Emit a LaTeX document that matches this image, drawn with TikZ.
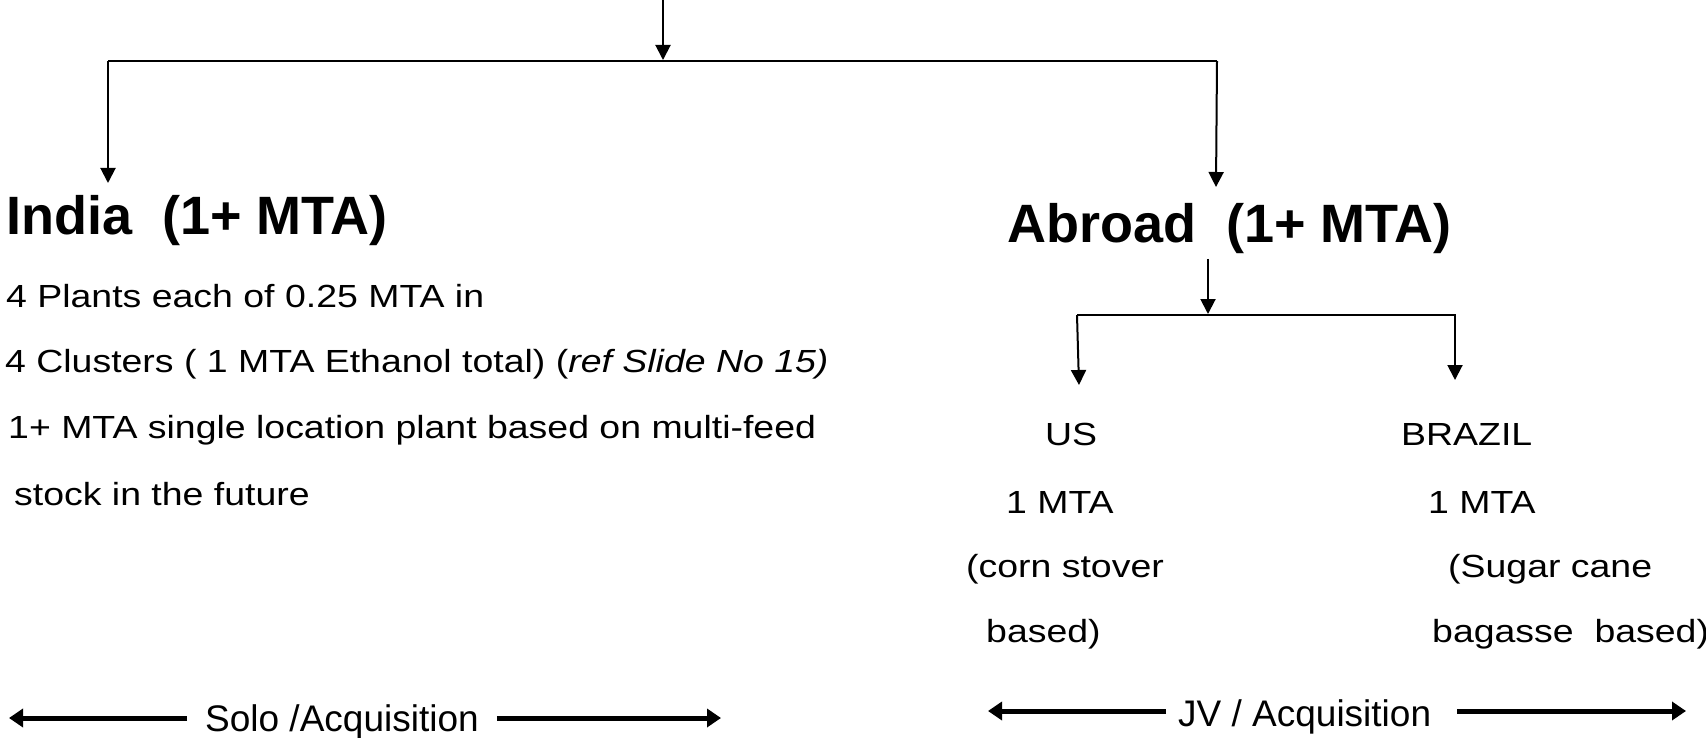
\documentclass[tikz,border=0pt]{standalone}
\usepackage{fontspec}
\setmainfont{Liberation Sans}
\newfontfamily\bodyfont[FakeStretch=1.17]{Liberation Sans}
\usetikzlibrary{arrows.meta}

\begin{document}
\begin{tikzpicture}[x=1pt, y=-1pt]

\tikzset{thinarrow/.style={line width=2pt, -{Triangle[length=15pt, width=15pt]}}}
\tikzset{widearrow/.style={line width=5pt, -{Triangle[length=14pt, width=18pt]}}}
\tikzset{headtext/.style={anchor=base west, inner sep=0pt, font=\fontsize{54}{60}\selectfont\bfseries}}
\tikzset{bodytext/.style={anchor=base west, inner sep=0pt, font=\bodyfont\fontsize{32}{38}\selectfont}}
\tikzset{scopetext/.style={anchor=base west, inner ysep=0pt, font=\fontsize{37}{44}\selectfont}}

\useasboundingbox (0,0) rectangle (1706,738);

% branch points
\coordinate (src) at (663,0);
\coordinate (hub) at (663,60);
\coordinate (hubL) at (108,61);
\coordinate (hubR) at (1217,61);
\coordinate (indiaIn) at (108,183);
\coordinate (abroadIn) at (1216,187);
\coordinate (abroadOut) at (1208,259);
\coordinate (split) at (1208,314);
\coordinate (splitL) at (1077,315);
\coordinate (splitR) at (1456,315);
\coordinate (usIn) at (1079,385);
\coordinate (brIn) at (1455,380);

% headings
\node[headtext] at (6,235) (india) {India\ \ (1+ MTA)};
\node[headtext] at (1007,243) (abroad) {Abroad\ \ (1+ MTA)};

% india plan
\node[bodytext] at (6,307) (plants) {4 Plants each of 0.25 MTA in};
\node[bodytext] at (5,372) (clusters) {4 Clusters ( 1 MTA Ethanol total) (\textit{ref Slide No 15)}};
\node[bodytext] at (8,438) (single) {1+ MTA single location plant based on multi-feed};
\node[bodytext] at (14,505) (stock) {stock in the future};

% abroad plan
\node[bodytext] at (1045,445) (us) {US};
\node[bodytext] at (1006,513) (usmta) {1 MTA};
\node[bodytext] at (966,577) (usfeed) {(corn stover};
\node[bodytext] at (986,642) (usbase) {based)};
\node[bodytext] at (1401,445) (br) {BRAZIL};
\node[bodytext] at (1428,513) (brmta) {1 MTA};
\node[bodytext] at (1448,577) (brfeed) {(Sugar cane};
\node[bodytext] at (1432,642) (brbase) {bagasse\ \ based)};

% tree
\draw[thinarrow] (src) -- (hub);
\draw[line width=2pt] (hubL) -- (hubR);
\draw[thinarrow] (hubL) -- (indiaIn);
\draw[thinarrow] (hubR |- hubL) -- (abroadIn);
\draw[thinarrow] (abroadOut) -- (split);
\draw[line width=2pt] (splitL) -- (splitR);
\draw[thinarrow] (splitL) -- (usIn);
\draw[thinarrow] (brIn |- splitR) -- (brIn);

% mode of entry
\coordinate (soloL) at (9,718);
\coordinate (soloR) at (721,718);
\coordinate (jvL) at (988,711);
\coordinate (jvR) at (1686,711);
\node[scopetext, inner xsep=18pt] at (187,731) (solo) {Solo /Acquisition};
\node[scopetext, inner xsep=12pt] at (1166,726) (jv) {JV / Acquisition};
\draw[widearrow] (soloL -| solo.west) -- (soloL);
\draw[widearrow] (soloR -| solo.east) -- (soloR);
\draw[widearrow] (jvL -| jv.west) -- (jvL);
\draw[widearrow, shorten <=14pt] (jvR -| jv.east) -- (jvR);

\end{tikzpicture}
\end{document}
